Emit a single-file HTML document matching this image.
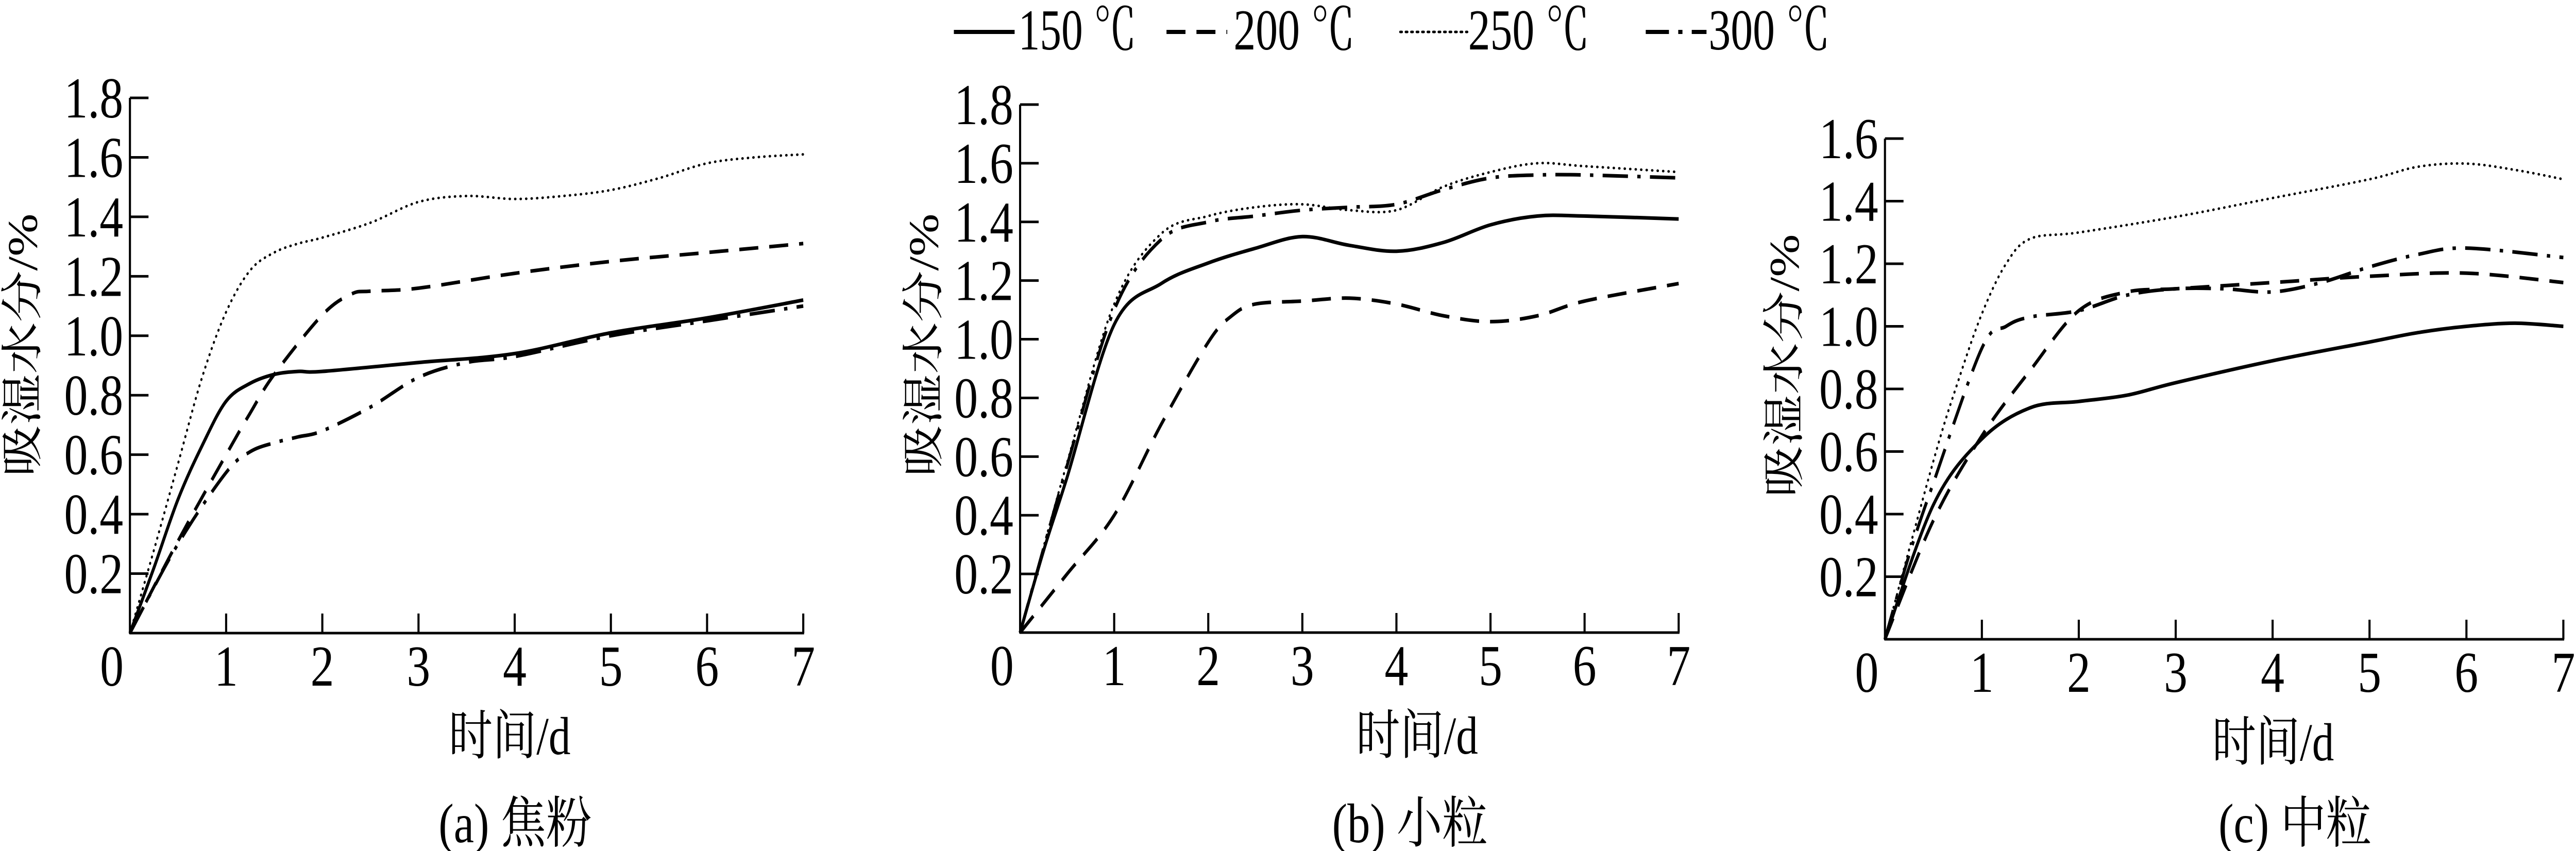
<!DOCTYPE html>
<html><head><meta charset="utf-8"><style>
html,body{margin:0;padding:0;background:#fff;width:100%;height:100%;overflow:hidden;}
svg{display:block;width:100vw;height:100vh;}
text{font-family:"Liberation Serif","Noto Serif CJK SC",serif;fill:#000;}
</style></head><body>
<svg id="fig" viewBox="0 0 6106 1652" preserveAspectRatio="none" xmlns="http://www.w3.org/2000/svg">
<g id="legend">
  <g>
    <line x1="2261" y1="62" x2="2405" y2="62" stroke="#000" stroke-width="8"/>
    <text x="2414" y="96" font-size="112" textLength="280" lengthAdjust="spacingAndGlyphs">150 ℃</text>
  </g>
  <g>
    <line x1="2765" y1="62" x2="2909" y2="62" stroke="#000" stroke-width="8" stroke-dasharray="45,26"/>
    <text x="2924" y="96" font-size="112" textLength="288" lengthAdjust="spacingAndGlyphs">200 ℃</text>
  </g>
  <g>
    <line x1="3319" y1="62" x2="3478" y2="62" stroke="#000" stroke-width="5" stroke-dasharray="4,9" stroke-linecap="round"/>
    <text x="3480" y="96" font-size="112" textLength="288" lengthAdjust="spacingAndGlyphs">250 ℃</text>
  </g>
  <g>
    <line x1="3901" y1="62" x2="4045" y2="62" stroke="#000" stroke-width="8" stroke-dasharray="55,22,10,22"/>
    <text x="4050" y="96" font-size="112" textLength="288" lengthAdjust="spacingAndGlyphs">300 ℃</text>
  </g>
</g>
</svg>
<script>
// ---- data ----
const xTicks = [0,1,2,3,4,5,6,7];
const yTicksAB = [0.2,0.4,0.6,0.8,1.0,1.2,1.4,1.6,1.8];
const yTicksC = [0.2,0.4,0.6,0.8,1.0,1.2,1.4,1.6];
const seriesNames = ['150','200','250','300'];

// chart a: 焦粉
const aX150 = [0,0.25,0.5,0.75,1,1.25,1.5,1.75,2,3,4,5,6,7];
const aY150 = [0,0.22,0.45,0.63,0.78,0.84,0.87,0.88,0.88,0.91,0.94,1.01,1.06,1.12];
const aX200 = [0,0.5,1,1.25,1.5,2,2.3,2.5,3,4,5,6,7];
const aY200 = [0,0.31,0.6,0.74,0.87,1.07,1.14,1.15,1.16,1.21,1.25,1.28,1.31];
const aX250 = [0,0.25,0.5,0.75,1,1.25,1.5,1.75,2,2.5,3,3.5,4,4.5,5,5.5,6,6.5,7];
const aY250 = [0,0.28,0.57,0.86,1.08,1.22,1.28,1.31,1.33,1.38,1.45,1.47,1.46,1.47,1.49,1.53,1.58,1.60,1.61];
const aX300 = [0,0.5,1,1.25,1.5,1.75,2,2.5,3,3.5,4,5,6,7];
const aY300 = [0,0.30,0.54,0.61,0.64,0.66,0.68,0.76,0.86,0.91,0.93,1.0,1.05,1.10];

// chart b: 小粒
const bX150 = [0,0.25,0.5,1,1.5,2,2.5,3,3.5,4,4.5,5,5.5,6,7];
const bY150 = [0,0.28,0.53,1.05,1.19,1.26,1.31,1.35,1.32,1.30,1.33,1.39,1.42,1.42,1.41];
const bX200 = [0,0.5,1,1.5,2,2.25,2.5,3,3.5,4,4.5,5,5.5,6,7];
const bY200 = [0,0.20,0.40,0.71,0.99,1.08,1.12,1.13,1.14,1.12,1.08,1.06,1.08,1.13,1.19];
const bX250 = [0,0.5,1,1.5,2,2.5,3,3.5,4,4.5,5,5.5,6,7];
const bY250 = [0,0.58,1.12,1.36,1.42,1.45,1.46,1.44,1.44,1.52,1.57,1.60,1.59,1.57];
const bX300 = [0,0.5,1,1.5,2,2.5,3,3.5,4,4.5,5,5.5,6,7];
const bY300 = [0,0.57,1.10,1.34,1.40,1.42,1.44,1.45,1.46,1.51,1.55,1.56,1.56,1.55];

// chart c: 中粒
const cX150 = [0,0.5,1,1.5,2,2.5,3,4,5,5.5,6,6.5,7];
const cY150 = [0,0.43,0.64,0.74,0.76,0.78,0.82,0.89,0.95,0.98,1.0,1.01,1.0];
const cX200 = [0,0.5,1,1.5,2,2.5,3,4,5,6,7];
const cY200 = [0,0.38,0.65,0.86,1.05,1.11,1.12,1.14,1.16,1.17,1.14];
const cX250 = [0,0.5,0.75,1,1.25,1.5,2,3,4,5,5.5,6,6.5,7];
const cY250 = [0,0.57,0.82,1.04,1.20,1.28,1.30,1.35,1.41,1.47,1.51,1.52,1.50,1.47];
const cX300 = [0,0.25,0.5,1,1.25,1.5,2,2.5,3,3.5,4,4.5,5,5.5,6,7];
const cY300 = [0,0.27,0.50,0.93,1.0,1.03,1.05,1.10,1.12,1.12,1.11,1.14,1.19,1.23,1.25,1.22];

const NS = 'http://www.w3.org/2000/svg';
const svg = document.getElementById('fig');
const styles = {
  '150': {w:7, dash:null, cap:'butt'},
  '200': {w:7, dash:'45,26', cap:'butt'},
  '250': {w:5, dash:'1,12', cap:'round'},
  '300': {w:7, dash:'60,22,8,22', cap:'butt'}
};

function mk(tag, attrs){ const e=document.createElementNS(NS,tag); for(const k in attrs) e.setAttribute(k,attrs[k]); return e; }

function smoothPath(pts){
  let d='M'+pts[0][0].toFixed(1)+','+pts[0][1].toFixed(1);
  for(let i=0;i<pts.length-1;i++){
    const p0=pts[Math.max(0,i-1)], p1=pts[i], p2=pts[i+1], p3=pts[Math.min(pts.length-1,i+2)];
    const t=1/6;
    const c1=[p1[0]+(p2[0]-p0[0])*t, p1[1]+(p2[1]-p0[1])*t];
    const c2=[p2[0]-(p3[0]-p1[0])*t, p2[1]-(p3[1]-p1[1])*t];
    d+=' C'+c1[0].toFixed(1)+','+c1[1].toFixed(1)+' '+c2[0].toFixed(1)+','+c2[1].toFixed(1)+' '+p2[0].toFixed(1)+','+p2[1].toFixed(1);
  }
  return d;
}

function chart(cfg){
  const g=mk('g',{});
  
  
  svg.appendChild(g);
  const xs=v=>cfg.x0+v*(cfg.x7-cfg.x0)/7;
  const ys=v=>cfg.y0-v*(cfg.y0-cfg.yTop)/cfg.yMax;
  const top=ys(cfg.yticks[cfg.yticks.length-1]);
  const ya=mk('line',{x1:cfg.x0,y1:cfg.y0,x2:cfg.x0,y2:top,stroke:'#000','stroke-width':5});
  
  
  g.appendChild(ya);
  const xa=mk('line',{x1:cfg.x0,y1:cfg.y0,x2:xs(7)+2,y2:cfg.y0,stroke:'#000','stroke-width':5});
  
  
  g.appendChild(xa);
  cfg.yticks.forEach(v=>{
    const y=ys(v);
    const t=mk('line',{x1:cfg.x0,y1:y,x2:cfg.x0+44,y2:y,stroke:'#000','stroke-width':5});
    
    
    g.appendChild(t);
    const l=mk('text',{x:cfg.x0-16,y:y+38,'font-size':112,'text-anchor':'end'});
    l.textContent=v.toFixed(1);
    
    
    g.appendChild(l);
  });
  xTicks.forEach(v=>{
    const x=xs(v);
    if(v>0){
      const t=mk('line',{x1:x,y1:cfg.y0,x2:x,y2:cfg.y0-38,stroke:'#000','stroke-width':5});
      
      
      g.appendChild(t);
    }
    const l=mk('text',{x:v===0?x-43:x,y:cfg.y0+102,'font-size':112,'text-anchor':'middle'});
    l.textContent=String(v);
    
    
    g.appendChild(l);
  });
  cfg.series.forEach((s,i)=>{
    const pts=s.x.map((xv,j)=>[xs(xv),ys(s.y[j])]);
    const st=styles[seriesNames[i]];
    const p=mk('path',{d:smoothPath(pts),fill:'none',stroke:'#000','stroke-width':st.w,'stroke-linecap':st.cap,'stroke-linejoin':'round'});
    if(st.dash) p.setAttribute('stroke-dasharray',st.dash);
    
    
    g.appendChild(p);
  });
  const yt=mk('text',{x:0,y:0,'font-size':100,'text-anchor':'middle','dominant-baseline':'central',transform:'translate('+cfg.ytX+','+cfg.ytY+') rotate(-90)'});
  yt.textContent='吸湿水分/%';
  
  
  g.appendChild(yt);
  const xt=mk('text',{x:cfg.xtX,y:cfg.y0+235,'font-size':104,'text-anchor':'middle'});
  xt.textContent='时间/d';
  
  
  g.appendChild(xt);
  const cap=mk('text',{x:cfg.capX,y:1635,'font-size':108,'text-anchor':'middle'});
  cap.textContent=cfg.caption;
  
  
  g.appendChild(cap);
}

chart({id:'a',x0:308,x7:1904,y0:1229,yTop:190,yMax:1.8,yticks:yTicksAB,ytX:54,ytY:670,xtX:1208,capX:1221,caption:'(a) 焦粉',
  series:[{x:aX150,y:aY150},{x:aX200,y:aY200},{x:aX250,y:aY250},{x:aX300,y:aY300}]});
chart({id:'b',x0:2418,x7:3979,y0:1228,yTop:203,yMax:1.8,yticks:yTicksAB,ytX:2190,ytY:670,xtX:3359,capX:3342,caption:'(b) 小粒',
  series:[{x:bX150,y:bY150},{x:bX200,y:bY200},{x:bX250,y:bY250},{x:bX300,y:bY300}]});
chart({id:'c',x0:4468,x7:6076,y0:1241,yTop:269,yMax:1.6,yticks:yTicksC,ytX:4230,ytY:710,xtX:5388,capX:5440,caption:'(c) 中粒',
  series:[{x:cX150,y:cY150},{x:cX200,y:cY200},{x:cX250,y:cY250},{x:cX300,y:cY300}]});
</script>
</body></html>
